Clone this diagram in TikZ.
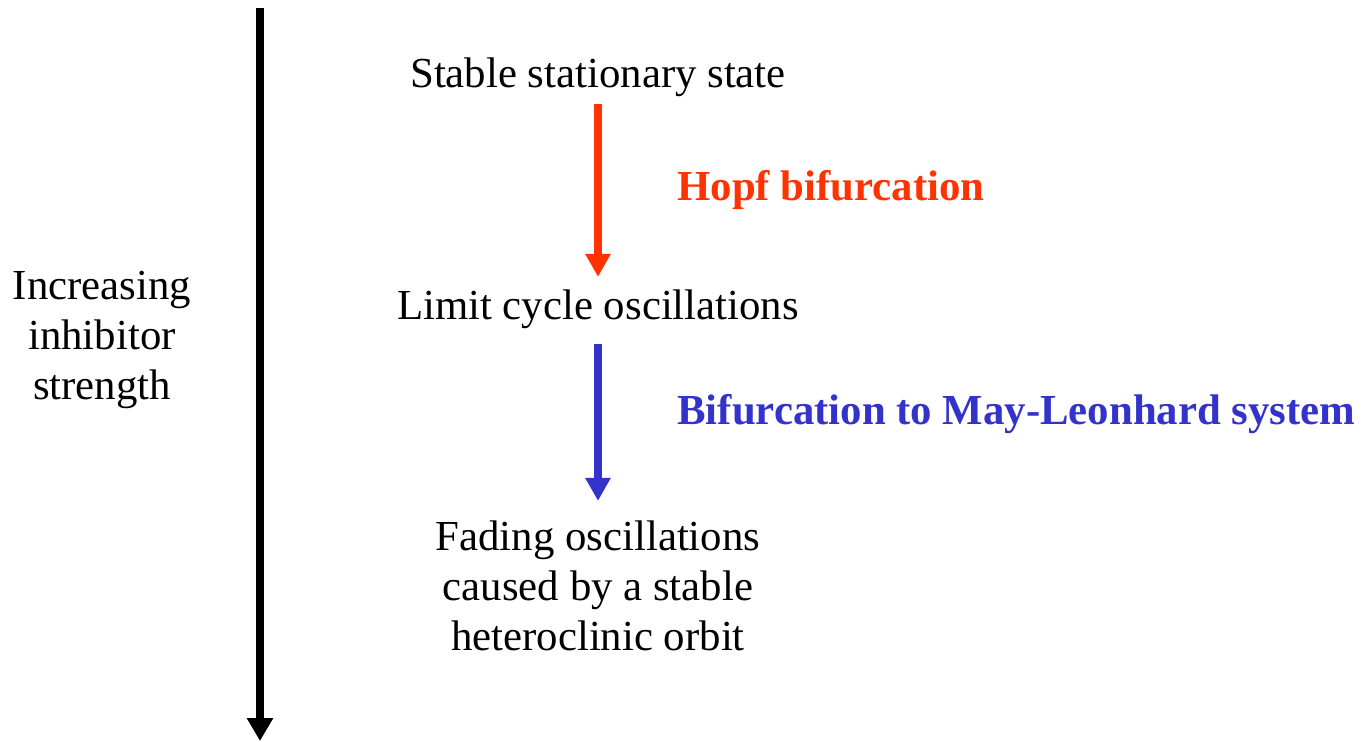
\documentclass[tikz,border=0pt]{standalone}
\usepackage{fontspec}
\setmainfont{Liberation Serif}
\usepackage{xcolor}
\definecolor{hopfred}{HTML}{FF3300}
\definecolor{mlblue}{HTML}{3333CC}
\usetikzlibrary{arrows.meta,positioning}

\begin{document}
\begin{tikzpicture}[x=0.5bp,y=-0.5bp,
  every node/.style={inner sep=0pt,font=\fontsize{21.4bp}{25bp}\selectfont},
  state/.style={anchor=base,align=center},
  branch/.style={anchor=base west,font=\fontsize{21.4bp}{25bp}\selectfont\bfseries},
  axis/.style={line width=4bp,-{Triangle[width=12.5bp,length=11.5bp]}},
  bif/.style={line width=4bp,-{Triangle[width=12bp,length=11.5bp]}}]
  \useasboundingbox (0,0) rectangle (1362,741);

  \coordinate (top) at (260,8);
  \coordinate (bottom) at (260,741);
  \draw[axis] (top) -- (bottom);
  \node[state] (strength) at (102,399) {Increasing\\inhibitor\\strength};

  \node[state] (stable) at (598,87) {Stable stationary state};
  \node[state] (limit) at (598,319) {Limit cycle oscillations};
  \node[state] (fading) at (598,650) {Fading oscillations\\caused by a stable\\heteroclinic orbit};

  \node[branch,text=hopfred] (hopf) at (677,200) {Hopf bifurcation};
  \node[branch,text=mlblue] (mayleonhard) at (677,424) {Bifurcation to May-Leonhard system};

  \draw[bif,draw=hopfred,fill=hopfred,shorten <=3.5bp,shorten >=6bp] (stable.south) -- (limit.north);
  \draw[bif,draw=mlblue,fill=mlblue,shorten <=7.5bp,shorten >=9.5bp] (limit.south) -- (fading.north);
\end{tikzpicture}
\end{document}
